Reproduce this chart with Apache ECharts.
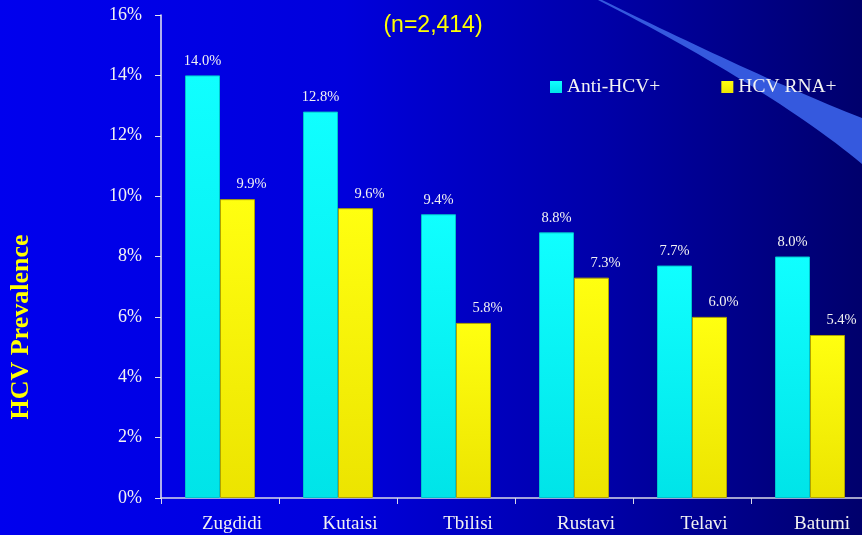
<!DOCTYPE html>
<html>
<head>
<meta charset="utf-8">
<script src="https://cdn.jsdelivr.net/npm/echarts@6/dist/echarts.min.js"></script>
<style>
  html, body { margin: 0; padding: 0; background: #000080; }
  #chart { width: 862px; height: 535px; }
</style>
</head>
<body>
<div id="chart"></div>
<script>
// HCV prevalence by city
const cities = ['Zugdidi', 'Kutaisi', 'Tbilisi', 'Rustavi', 'Telavi', 'Batumi'];
const antiHcv = [14.0, 12.8, 9.4, 8.8, 7.7, 8.0];
const hcvRna = [9.9, 9.6, 5.8, 7.3, 6.0, 5.4];
const seriesNames = ['Anti-HCV+', 'HCV RNA+'];
const sampleNote = '(n=2,414)';
const yTitle = 'HCV Prevalence';

const serif = 'Liberation Serif, Times New Roman, serif';
const textColor = '#F2F2F2';

const chart = echarts.init(document.getElementById('chart'));

const grad = (top, bottom) => new echarts.graphic.LinearGradient(0, 0, 0, 1, [
  { offset: 0, color: top },
  { offset: 1, color: bottom }
]);

// sample a cubic bezier into polygon points
function cubic(p0, p1, p2, p3, n) {
  const pts = [];
  for (let i = 0; i <= n; i++) {
    const t = i / n, u = 1 - t;
    pts.push([
      u * u * u * p0[0] + 3 * u * u * t * p1[0] + 3 * u * t * t * p2[0] + t * t * t * p3[0],
      u * u * u * p0[1] + 3 * u * u * t * p1[1] + 3 * u * t * t * p2[1] + t * t * t * p3[1]
    ]);
  }
  return pts;
}
const swooshPts = cubic([602, 0], [680, 38], [780, 86], [862, 118], 30)
  .concat(cubic([862, 164], [800, 112], [700, 52], [598, 0], 30));

const valueLabel = (dx) => ({
  show: true,
  position: 'top',
  distance: 7,
  offset: [dx, 0],
  color: textColor,
  fontFamily: serif,
  fontSize: 14.5,
  formatter: (p) => p.value.toFixed(1) + '%'
});

chart.setOption({
  animation: false,
  graphic: [
    {
      type: 'rect',
      z: -10,
      silent: true,
      shape: { x: 0, y: 0, width: 862, height: 535 },
      style: {
        fill: new echarts.graphic.LinearGradient(0, 0, 1, 0, [
          { offset: 0, color: '#0000EE' },
          { offset: 0.4, color: '#0000DC' },
          { offset: 0.7, color: '#0000A8' },
          { offset: 1, color: '#00006C' }
        ])
      }
    },
    {
      // light-blue swoosh in the upper right corner
      type: 'polygon',
      z: -9,
      silent: true,
      shape: { points: swooshPts },
      style: { fill: '#3559DE' }
    },
    {
      type: 'text',
      silent: true,
      x: 433,
      y: 26,
      style: {
        text: sampleNote,
        fill: '#FFFF00',
        font: '23px Liberation Sans, Arial, sans-serif',
        align: 'center',
        verticalAlign: 'middle'
      }
    },
    {
      type: 'text',
      silent: true,
      x: 21,
      y: 327,
      rotation: Math.PI / 2,
      style: {
        text: yTitle,
        fill: '#FFFF00',
        font: 'bold 26px ' + serif,
        align: 'center',
        verticalAlign: 'middle'
      }
    }
  ],
  legend: {
    left: 545,
    top: 72,
    itemWidth: 12,
    itemHeight: 12,
    itemGap: 61,
    icon: 'rect',
    itemStyle: { borderWidth: 0 },
    textStyle: { color: textColor, fontFamily: serif, fontSize: 19.5 },
    data: seriesNames
  },
  grid: {
    left: 161,
    top: 15,
    width: 708,
    height: 483,
    containLabel: false,
    outerBoundsMode: 'none'
  },
  xAxis: {
    type: 'category',
    data: cities,
    axisLine: { show: true, lineStyle: { color: '#D8D8E8', width: 1.5 } },
    axisTick: { show: true, length: 6, lineStyle: { color: '#D8D8E8' } },
    axisLabel: {
      color: textColor,
      fontFamily: serif,
      fontSize: 19,
      margin: 17,
      padding: [0, 0, 0, 24]
    },
    splitLine: { show: false }
  },
  yAxis: {
    type: 'value',
    min: 0,
    max: 16,
    interval: 2,
    axisLine: { show: true, lineStyle: { color: '#E8E8F0', width: 1.5 } },
    axisTick: { show: true, length: 6, lineStyle: { color: '#E8E8F0' } },
    axisLabel: {
      color: textColor,
      fontFamily: serif,
      fontSize: 18,
      margin: 19,
      formatter: '{value}%'
    },
    splitLine: { show: false }
  },
  series: [
    {
      name: seriesNames[0],
      type: 'bar',
      data: antiHcv,
      barWidth: 35,
      barGap: '0%',
      itemStyle: {
        color: grad('#10FFFF', '#00E4E8'),
        borderColor: '#00C4CC',
        borderWidth: 1
      },
      label: valueLabel(0)
    },
    {
      name: seriesNames[1],
      type: 'bar',
      data: hcvRna,
      barWidth: 35,
      itemStyle: {
        color: grad('#FFFF10', '#ECE400'),
        borderColor: '#B0A400',
        borderWidth: 1
      },
      label: valueLabel(14)
    }
  ]
});
</script>
</body>
</html>
